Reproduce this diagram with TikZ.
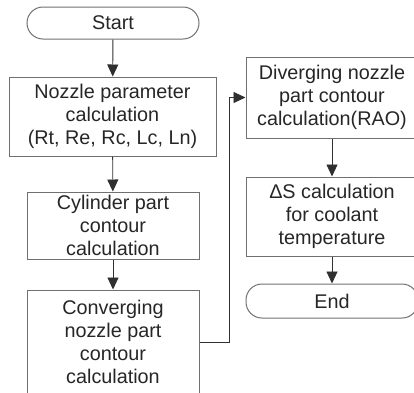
\documentclass[tikz,border=0pt]{standalone}
\usepackage{fontspec}
\setmainfont{Liberation Sans}
\usetikzlibrary{arrows.meta}

\definecolor{boxline}{HTML}{707070}
\definecolor{txt}{HTML}{262626}
\definecolor{wire}{HTML}{303030}

\tikzset{
  procbox/.style={draw=boxline, line width=1pt, rectangle, inner sep=0pt,
    align=center, text=txt, font=\fontsize{19.8}{23}\selectfont},
  termbox/.style={procbox, rounded corners=16pt},
  flow/.style={draw=wire, line width=0.9pt, -{Triangle[length=12pt,width=11pt]}}
}

\begin{document}
\begin{tikzpicture}[x=1pt, y=-1pt]
  \useasboundingbox (0,0) rectangle (414,392);
  \clip (0,0) rectangle (414,392);

  % left column
  \node[termbox, minimum width=172pt, minimum height=32pt] (start) at (113,23) {Start};
  \node[procbox, minimum width=207pt, minimum height=79pt] (param) at (112.5,116.5)
    {Nozzle parameter\\calculation\\(Rt, Re, Rc, Lc, Ln)};
  \node[procbox, minimum width=172pt, minimum height=67pt] (cyl) at (113,225.5)
    {Cylinder part\\contour\\calculation};
  \node[procbox, minimum width=172pt, minimum height=104pt] (conv) at (113,342)
    {Converging\\nozzle part\\contour\\calculation};

  % right column
  \node[procbox, minimum width=172pt, minimum height=81pt] (div) at (332,97.5)
    {Diverging nozzle\\part contour\\calculation(RAO)};
  \node[procbox, minimum width=172pt, minimum height=79pt] (ds) at (332,216.5)
    {ΔS calculation\\for coolant\\temperature};
  \node[termbox, minimum width=172pt, minimum height=34pt] (end) at (332,301) {End};

  % connectors
  \draw[flow] (start) -- (param);
  \draw[flow] (param) -- (cyl);
  \draw[flow] (cyl) -- (conv);
  \coordinate (bendlo) at (229,342);
  \coordinate (bendhi) at (229,97.5);
  \draw[flow] (conv.east) -- (bendlo) -- (bendhi) -- (div.west);
  \draw[flow] (div) -- (ds);
  \draw[flow] (ds) -- (end);
\end{tikzpicture}
\end{document}
